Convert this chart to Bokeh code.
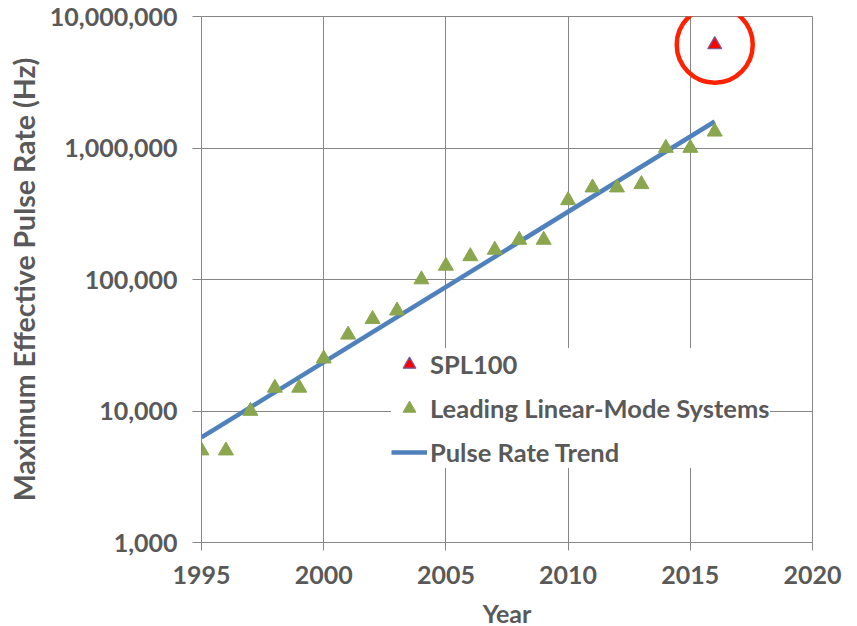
from bokeh.plotting import figure
from bokeh.models import FixedTicker, NumeralTickFormatter, Legend, LegendItem, Range1d
from bokeh.embed import file_html
from bokeh.resources import INLINE

# ---- data ----
years = list(range(1995, 2017))
linear_mode_rates = [5000, 5000, 10000, 15000, 15000, 25000, 38000, 50000, 58000,
                     100000, 127000, 150000, 168000, 200000, 200000, 400000,
                     500000, 500000, 530000, 1000000, 1000000, 1330000]
spl100_years = [2016]
spl100_rates = [6100000]
trend_years = [1995, 2016]
trend_rates = [6300, 1590000]
x_ticks = [1995, 2000, 2005, 2010, 2015, 2020]
y_ticks = [1000, 10000, 100000, 1000000, 10000000]

GRID = "#868686"
TEXT = "#595959"
FONT = "Lato"

p = figure(frame_width=611, frame_height=526,
           x_range=Range1d(1995, 2020), y_range=Range1d(1000, 10000000),
           y_axis_type="log", output_backend="svg", toolbar_location=None,
           min_border_left=201, min_border_top=16, min_border_right=30,
           min_border_bottom=84)

p.xaxis.ticker = FixedTicker(ticks=x_ticks, minor_ticks=[])
p.yaxis.ticker = FixedTicker(ticks=y_ticks, minor_ticks=[])
p.yaxis.formatter = NumeralTickFormatter(format="0,0")

for ax in (p.xaxis, p.yaxis):
    ax.axis_line_color = GRID
    ax.axis_line_width = 1
    ax.major_tick_line_color = GRID
    ax.major_tick_in = 0
    ax.minor_tick_line_color = None
    ax.major_label_text_font = FONT
    ax.major_label_text_font_style = "bold"
    ax.major_label_text_font_size = "25px"
    ax.major_label_text_color = TEXT
    ax.axis_label_text_font = FONT
    ax.axis_label_text_font_style = "bold"
    ax.axis_label_text_color = TEXT

p.xaxis.axis_label_text_font_size = "25px"
p.yaxis.axis_label_text_font_size = "28.5px"
p.xaxis.major_tick_out = 8
p.yaxis.major_tick_out = 9
p.xaxis.major_label_standoff = 15
p.yaxis.major_label_standoff = 15
p.xaxis.axis_label = "Year"
p.yaxis.axis_label = "Maximum Effective Pulse Rate (Hz)"
p.xaxis.axis_label_standoff = 11
p.yaxis.axis_label_standoff = 6

p.xgrid.grid_line_color = GRID
p.ygrid.grid_line_color = GRID
p.xgrid.grid_line_width = 1
p.ygrid.grid_line_width = 1
p.outline_line_color = GRID
p.outline_line_width = 1
p.outline_line_alpha = 1

trend = p.line(trend_years, trend_rates, line_color="#4F81BD", line_width=4.5)
lin = p.scatter(years, linear_mode_rates, marker="triangle", size=15,
                fill_color="#8AA64E", line_color="#8AA64E")
spl = p.scatter(spl100_years, spl100_rates, marker="triangle", size=14,
                fill_color="#FF0000", line_color="#6E5E9E", line_width=1.2)
p.scatter(spl100_years, spl100_rates, marker="circle", size=76,
          fill_color=None, line_color="#FF2200", line_width=4.5)

legend = Legend(items=[
    LegendItem(label="SPL100", renderers=[spl]),
    LegendItem(label="Leading Linear-Mode Systems", renderers=[lin]),
    LegendItem(label="Pulse Rate Trend", renderers=[trend]),
], location=(190, 74))
legend.margin = 0
legend.label_text_font = FONT
legend.label_text_font_style = "bold"
legend.label_text_font_size = "25.5px"
legend.label_text_color = TEXT
legend.glyph_width = 36
legend.glyph_height = 32
legend.label_height = 32
legend.label_standoff = 3
legend.spacing = 12
legend.padding = 16
legend.border_line_color = None
legend.background_fill_color = "white"
legend.background_fill_alpha = 1
p.add_layout(legend)

open("out.html", "w").write(file_html(p, INLINE))
